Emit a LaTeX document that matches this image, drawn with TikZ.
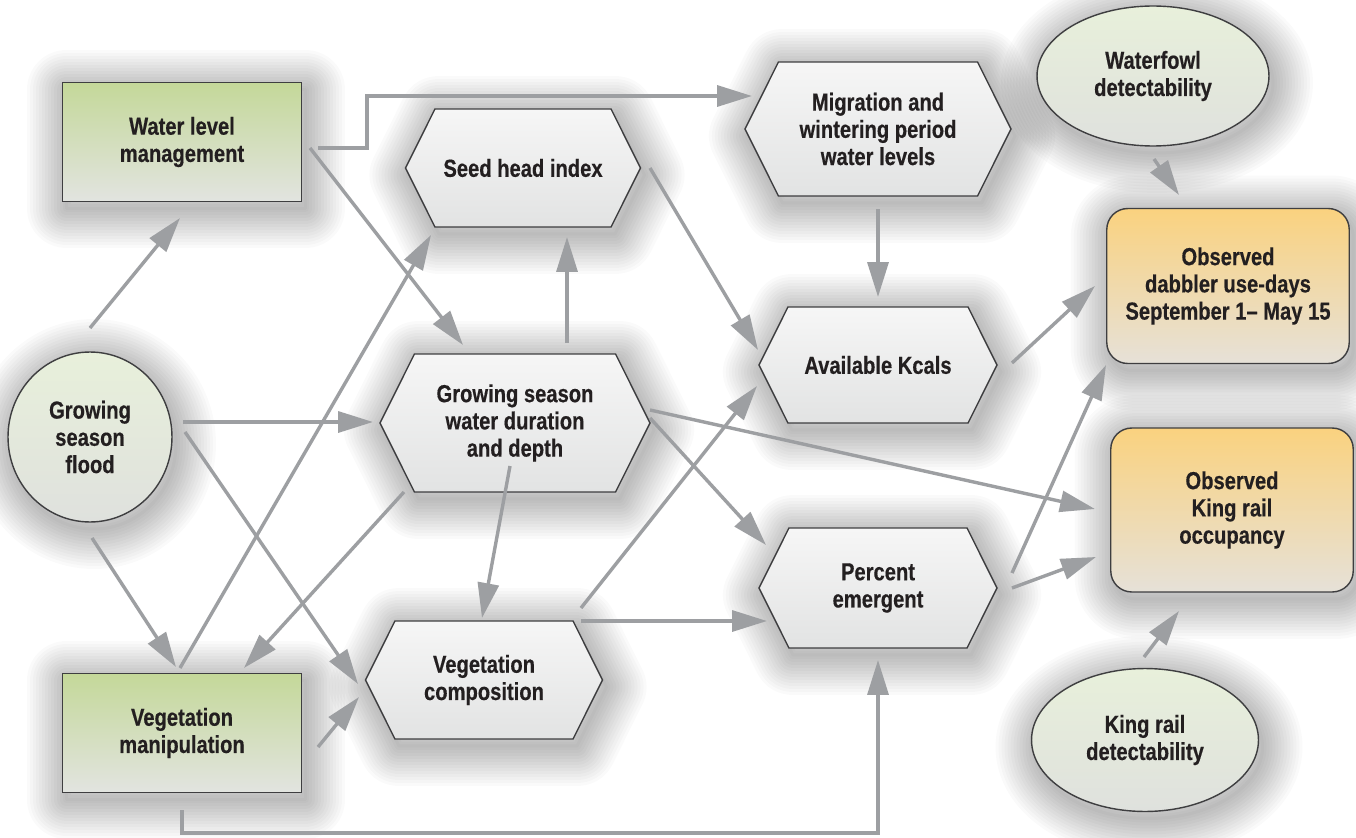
\documentclass[tikz,border=0pt]{standalone}
\usepackage{fontspec}
\setmainfont{Liberation Sans}[FakeStretch=0.82, BoldFeatures={FakeBold=0.4}]
\usetikzlibrary{shapes.symbols,shapes.geometric,arrows.meta,calc}
\definecolor{arrowgray}{HTML}{9D9FA2}
\definecolor{bordergray}{HTML}{3E3E40}
\definecolor{textdark}{HTML}{231F20}
\definecolor{greentop}{HTML}{C4D899}
\definecolor{greenbot}{HTML}{E2E4E0}
\definecolor{hextop}{HTML}{F6F6F6}
\definecolor{hexbot}{HTML}{E2E3E3}
\definecolor{ovaltop}{HTML}{E8F0DB}
\definecolor{ovalbot}{HTML}{DFE1DD}
\definecolor{orangetop}{HTML}{FAD27F}
\definecolor{orangebot}{HTML}{E6E1D8}
\begin{document}
\begin{tikzpicture}[
        x=0.02cm, y=-0.02cm,
        shadowstep/.style={preaction={draw=black, draw opacity=0.018, line width=#1, line join=round,
            transform canvas={shift={(0.08cm,-0.14cm)}}}},
        softshadow/.style={shadowstep/.list={1.6cm,1.48cm,1.36cm,1.24cm,1.12cm,1cm,0.88cm,0.76cm,0.64cm,0.52cm,0.4cm,0.28cm,0.16cm,0.06cm}},
        base/.style={softshadow, draw=bordergray, line width=0.8pt, text=textdark, align=center, inner sep=2pt,
            font=\fontsize{14}{15.5}\selectfont\bfseries},
        mgmt/.style={base, rectangle, minimum width=4.78cm, minimum height=2.38cm, top color=greentop, bottom color=greenbot},
        hexnode/.style={base, signal, signal to=west and east, signal pointer angle=127, top color=hextop, bottom color=hexbot},
        driver/.style={base, ellipse, top color=ovaltop, bottom color=ovalbot},
        outcome/.style={base, rectangle, rounded corners=0.42cm, minimum width=4.85cm, top color=orangetop, bottom color=orangebot},
        arrow/.style={-{Triangle[length=0.7cm,width=0.42cm]}, line width=0.068cm, draw=arrowgray}
    ]
        \useasboundingbox[fill=white] (0,0) rectangle (1356,838);

        % Management actions
        \node[mgmt] (wlm) at (182,142) {Water level\\management};
        \node[mgmt] (vm) at (182,733) {Vegetation\\manipulation};

        % Drivers and detectability
        \node[driver, minimum width=3.28cm, minimum height=3.4cm] (gsf) at (90,437) {Growing\\season\\flood};
        \node[driver, minimum width=4.64cm, minimum height=2.8cm] (wfd) at (1153,76) {Waterfowl\\detectability};
        \node[driver, minimum width=4.54cm, minimum height=2.86cm] (krd) at (1145,740) {King rail\\detectability};

        % Habitat states
        \node[hexnode, minimum width=4.7cm, minimum height=2.36cm] (seed) at (523,168) {Seed head index};
        \node[hexnode, minimum width=5.32cm, minimum height=2.68cm] (mig) at (878,129) {Migration and\\wintering period\\water levels};
        \node[hexnode, minimum width=4.76cm, minimum height=2.32cm] (kcal) at (878,365) {Available Kcals};
        \node[hexnode, minimum width=5.4cm, minimum height=2.76cm] (gsw) at (515,423) {Growing season\\water duration\\and depth};
        \node[hexnode, minimum width=4.74cm, minimum height=2.36cm] (vcomp) at (484,680) {Vegetation\\composition};
        \node[hexnode, minimum width=4.76cm, minimum height=2.4cm] (pem) at (878,588) {Percent\\emergent};

        % Observations
        \node[outcome, minimum height=3.1cm] (dab) at (1228,286) {Observed\\dabbler use-days\\September 1– May 15};
        \node[outcome, minimum height=3.28cm] (kro) at (1232,510) {Observed\\King rail\\occupancy};

        % Arrows
        \draw[arrow] ($(gsf)+(0,-109)$) -- ($(wlm)+(-2,76)$);
        \draw[arrow] ($(wlm)+(136,6)$) -- ++(49,0) |- ($(mig)+(-126,-33)$);
        \draw[arrow] ($(wlm)+(128,6)$) -- ($(gsw)+(-52,-78)$);
        \draw[arrow] ($(vm)+(-2,-65)$) -- ($(seed)+(-92,67)$);
        \draw[arrow] ($(gsw)+(52,-80)$) -- ($(seed)+(44,69)$);
        \draw[arrow] ($(seed)+(127,0)$) -- ($(kcal)+(-120,-15)$);
        \draw[arrow] ($(mig)+(0,80)$) -- ($(kcal)+(0,-68)$);
        \draw[arrow] ($(kcal)+(134,-2)$) -- ($(dab)+(-133,0)$);
        \draw[arrow] ($(wfd)+(1,83)$) -- ($(dab)+(-49,-91)$);
        \draw[arrow] ($(gsf)+(93,-15)$) -- ($(gsw)+(-142,-1)$);
        \draw[arrow] ($(gsf)+(95,-5)$) -- ($(vcomp)+(-126,4)$);
        \draw[arrow] ($(gsf)+(2,101)$) -- ($(vm)+(-6,-66)$);
        \draw[arrow] ($(gsw)+(-111,69)$) -- ($(vm)+(62,-65)$);
        \draw[arrow] ($(gsw)+(-5,43)$) -- ($(vcomp)+(-2,-62)$);
        \draw[arrow] ($(vm)+(136,14)$) -- ($(vcomp)+(-125,17)$);
        \draw[arrow] ($(vm)+(0,77)$) -- ++(0,23) -| ($(pem)+(0,72)$);
        \draw[arrow] ($(vcomp)+(97,-72)$) -- ($(kcal)+(-121,21)$);
        \draw[arrow] ($(vcomp)+(97,-59)$) -- ($(pem)+(-111,33)$);
        \draw[arrow] ($(gsw)+(135,-5)$) -- ($(pem)+(-112,-43)$);
        \draw[arrow] ($(gsw)+(135,-13)$) -- ($(kro)+(-137,-1)$);
        \draw[arrow] ($(pem)+(134,-15)$) -- ($(dab)+(-122,79)$);
        \draw[arrow] ($(pem)+(134,0)$) -- ($(kro)+(-136,47)$);
        \draw[arrow] ($(krd)+(-1,-83)$) -- ($(kro)+(-53,101)$);

    \end{tikzpicture}
\end{document}
